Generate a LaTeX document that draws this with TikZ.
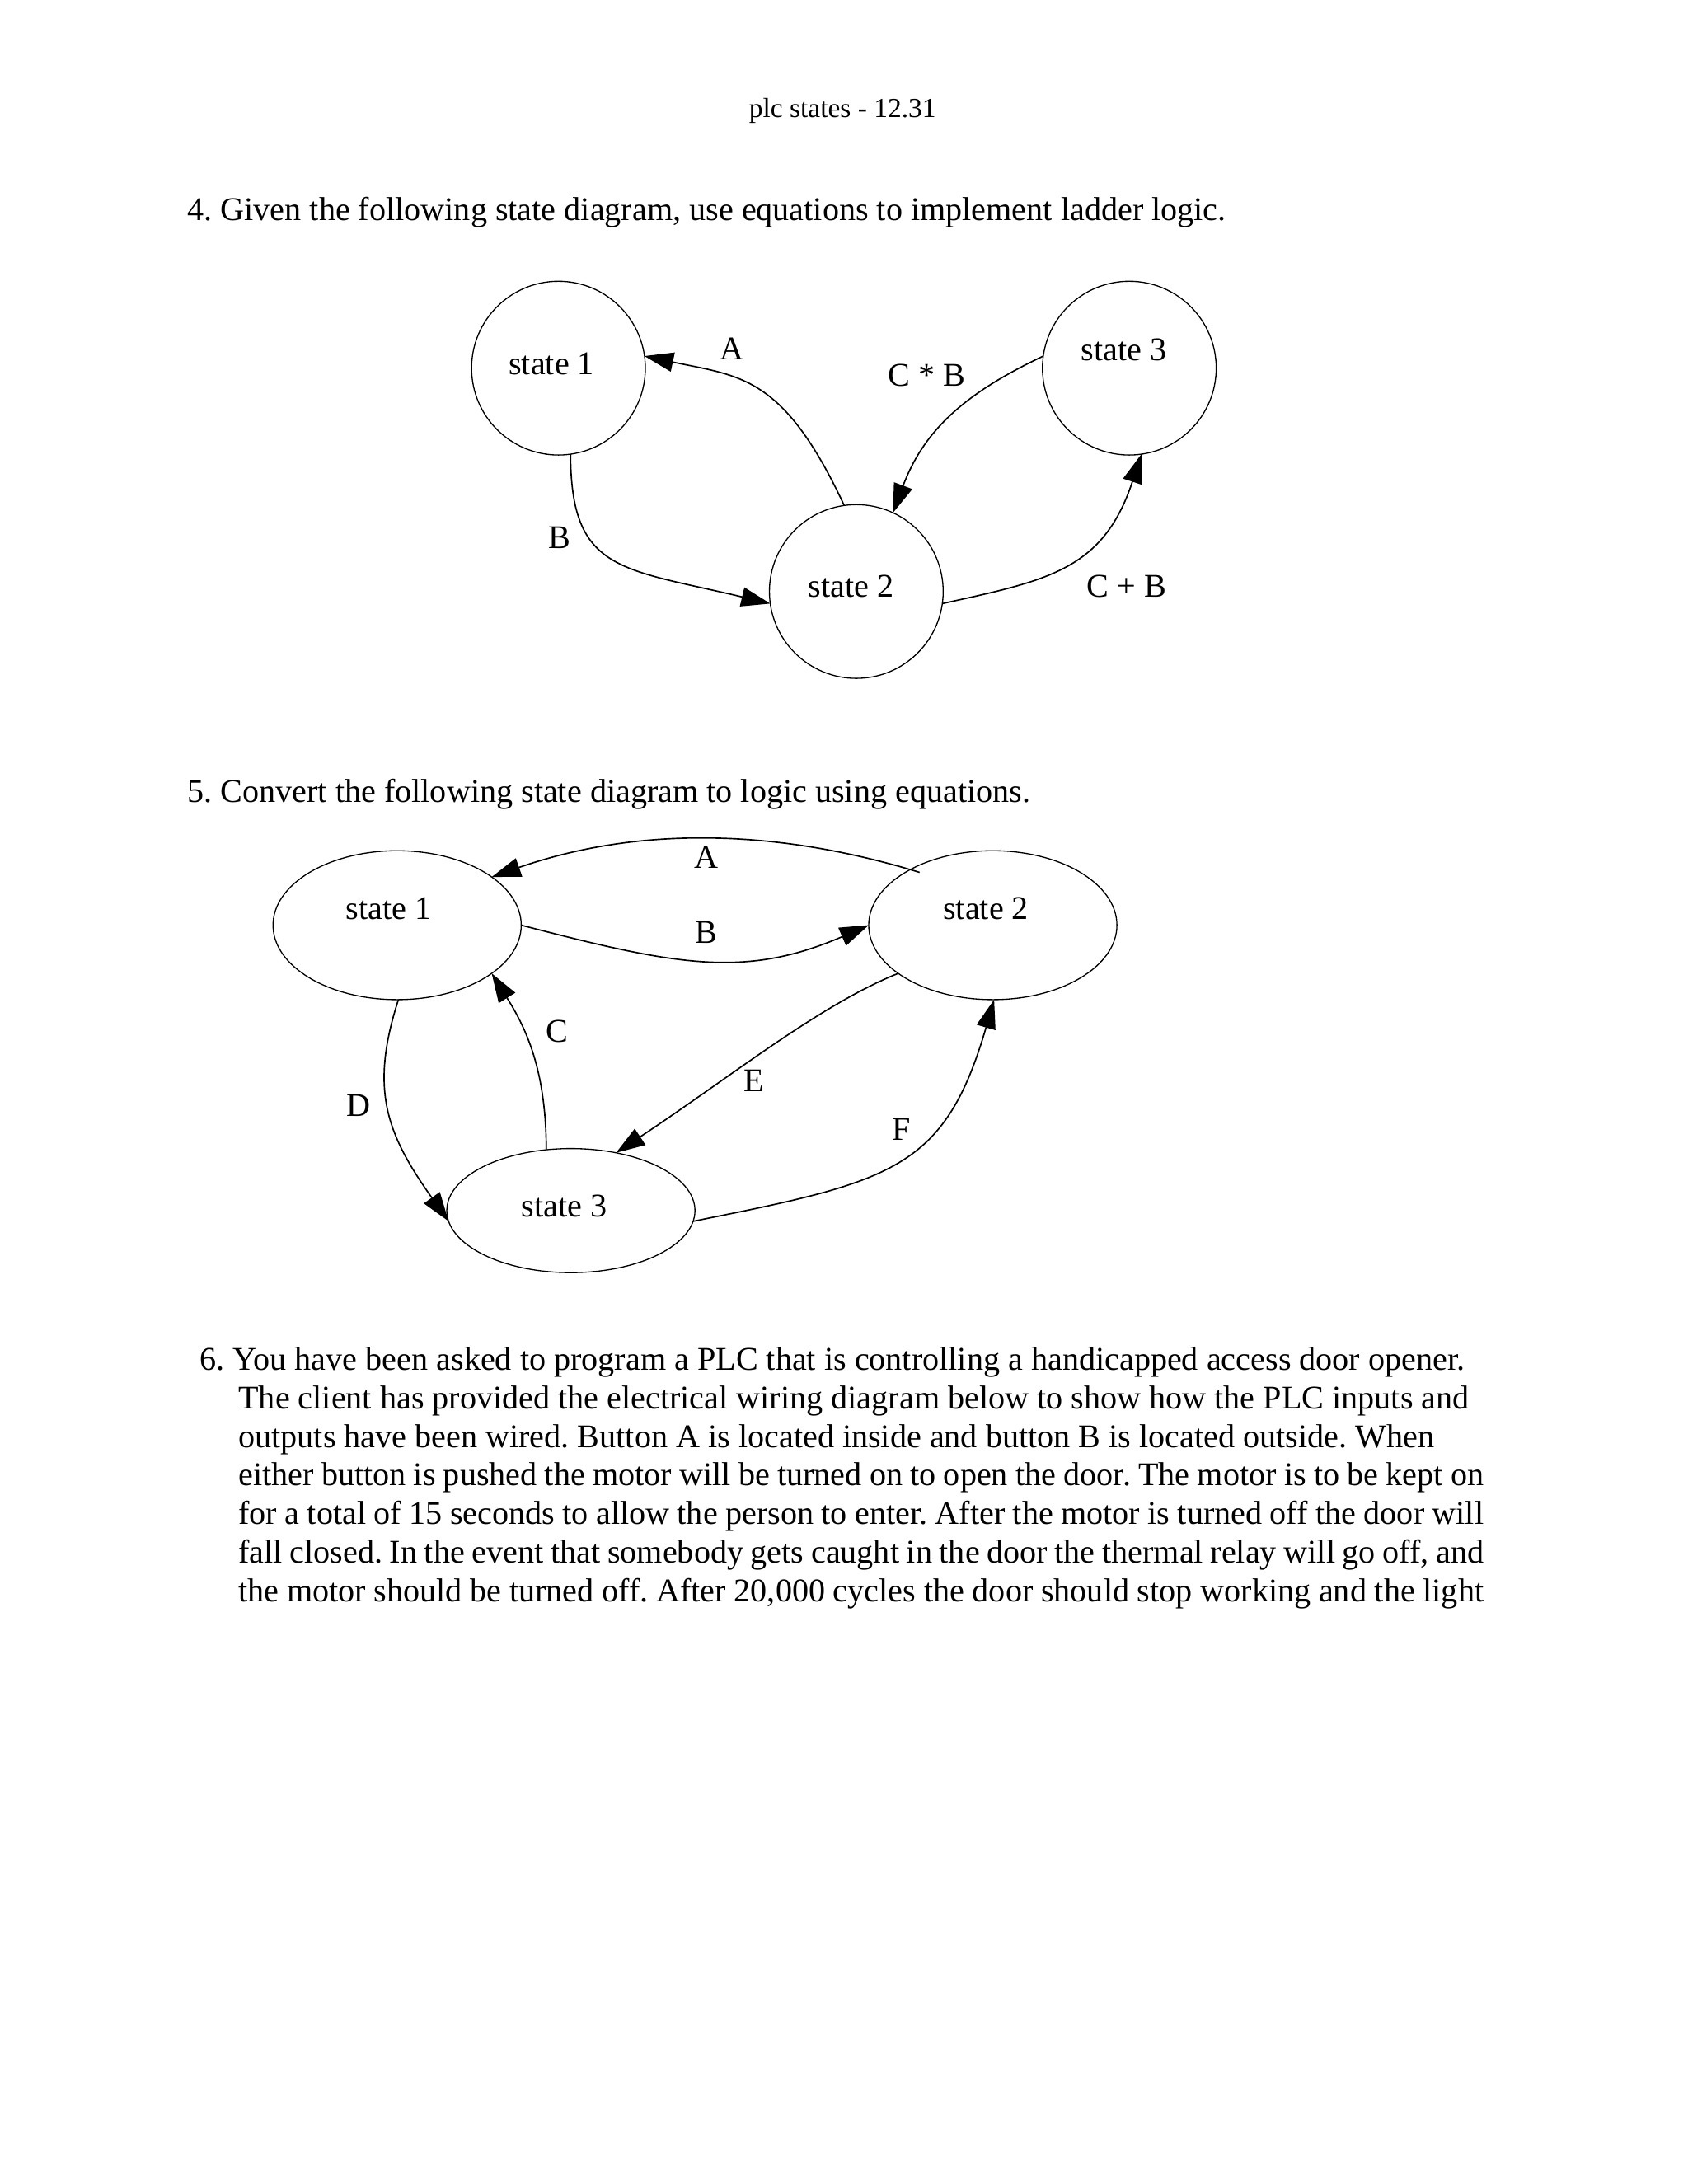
\documentclass[tikz,border=0pt]{standalone}
\usepackage{fontspec}
\setmainfont{Liberation Serif}
\usetikzlibrary{arrows.meta,shapes.geometric}

\begin{document}
\begin{tikzpicture}[x=0.5bp, y=-0.5bp,
    every node/.style={inner sep=0pt, outer sep=0pt},
    circstate/.style={draw, circle, minimum size=63bp},
    ovalstate/.style={draw, ellipse, minimum width=90bp, minimum height=54bp},
    trans/.style={line width=0.5pt, -{Triangle[length=10.5bp, width=7bp]}},
    heading/.style={anchor=base west}]

  \fontsize{12bp}{14bp}\selectfont
  \frenchspacing
  \useasboundingbox (0,0) rectangle (1224,1584);

  \newcommand\J[1]{\hspace*{14bp}\makebox[451.5bp][s]{#1}}

  \node[anchor=base] (head) at (611,85) {\fontsize{10bp}{12bp}\selectfont plc states - 12.31};

  %% question 4
  \node[heading] (q4) at (136,160) {4. Given the following state diagram, use equations to implement ladder logic.};

  \node[circstate, label={[xshift=-2.5bp, yshift=1.5bp]center:state 1}] (a1) at (405,267) {};
  \node[circstate, label={[xshift=-2bp, yshift=2bp]center:state 2}] (a2) at (621,429) {};
  \node[circstate, label={[xshift=-2bp, yshift=6.7bp]center:state 3}] (a3) at (819,267) {};

  \draw[trans] (a2.98) .. controls (568,272) and (537,273) .. (a1.8); %% 2->1
  \draw[trans] (a3.172) .. controls (700,285) and (670,312) .. (a2.65); %% 3->2
  \draw[trans] (a1.278) .. controls (414,415) and (450,412) .. (a2.188); %% 1->2
  \draw[trans] (a2.352) .. controls (759,421) and (800,414) .. (a3.278); %% 2->3

  \node (la) at (531,253) {A};
  \node (lcb) at (672,272) {C * B};
  \node (lb) at (406,390) {B};
  \node (lcpb) at (817,425) {C + B};

  %% question 5
  \node[heading] (q5) at (136,582) {5. Convert the following state diagram to logic using equations.};

  \node[ovalstate, label={[xshift=-3bp, yshift=6bp]center:state 1}] (b1) at (288,671) {};
  \node[ovalstate, label={[xshift=-2.5bp, yshift=6bp]center:state 2}] (b2) at (720,671) {};
  \node[ovalstate, minimum height=45bp, label={[xshift=-2.5bp, yshift=1.75bp]center:state 3}] (b3) at (414,878) {};

  \draw[trans, shorten <=-3.5bp] (b2.146) .. controls (560,600) and (460,600) .. (b1.27); %% A
  \draw[trans] (b1.0) .. controls (490,700) and (540,710) .. (b2.180); %% B
  \draw[trans] (b3.112) .. controls (396,775) and (381,745) .. (b1.333); %% C
  \draw[trans] (b1.271) .. controls (268,790) and (280,822) .. (b3.185); %% D
  \draw[trans] (b2.207) .. controls (594,729) and (530,781) .. (b3.52); %% E
  \draw[trans] (b3.355) .. controls (646,857) and (685,849) .. (b2.271); %% F

  \node (ma) at (512,622) {A};
  \node (mb) at (512,676) {B};
  \node (mc) at (404,748) {C};
  \node (md) at (260,802) {D};
  \node (me) at (547,784) {E};
  \node (mf) at (654,819) {F};

  %% question 6
  \node[anchor=north west, align=left] (q6) at (145,977) {6. You have been asked to program a PLC that is controlling a handicapped access door opener.\\
    \hspace*{14bp}The client has provided the electrical wiring diagram below to show how the PLC inputs and\\
    \hspace*{14bp}outputs have been wired. Button A is located inside and button B is located outside. When\\
    \J{either button is pushed the motor will be turned on to open the door. The motor is to be kept on}\\
    \J{for a total of 15 seconds to allow the person to enter. After the motor is turned off the door will}\\
    \J{fall closed. In the event that somebody gets caught in the door the thermal relay will go off, and}\\
    \J{the motor should be turned off. After 20,000 cycles the door should stop working and the light}};
\end{tikzpicture}
\end{document}
